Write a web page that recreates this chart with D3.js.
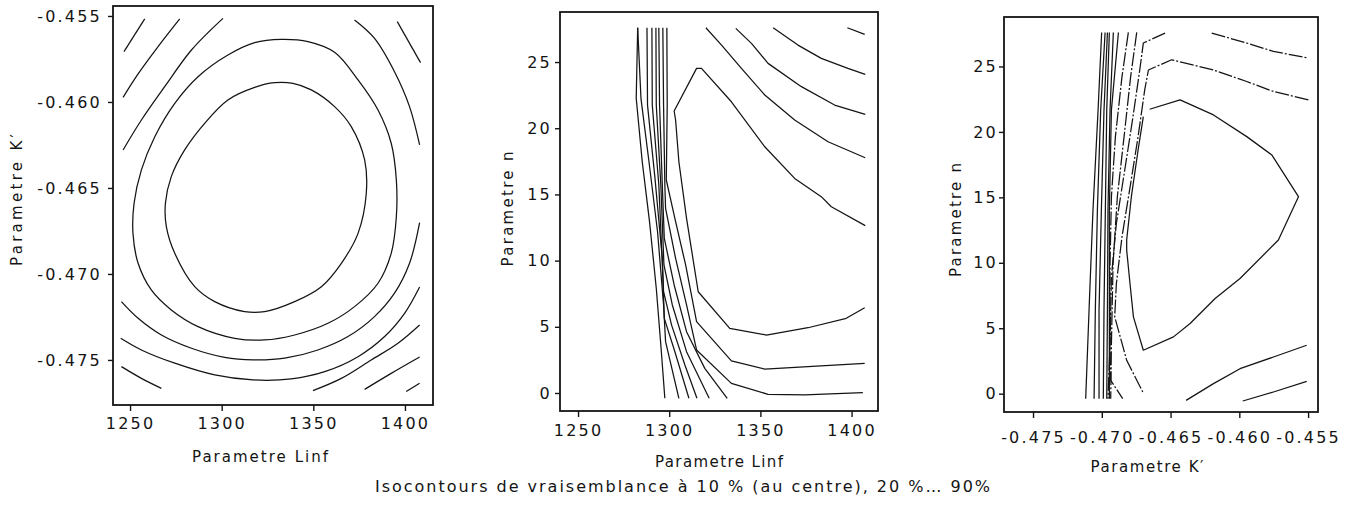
<!DOCTYPE html>
<html><head><meta charset="utf-8">
<script src="https://cdn.jsdelivr.net/npm/d3@7"></script>
<style>
body{margin:0;background:#fff;}
svg{display:block;}
</style></head><body>
<svg id="chart" width="1361" height="513"></svg>
<script>
// ---------- Panel 1 : Linf (x) vs K' (y) ----------
const p1_xTicks = [1250, 1300, 1350, 1400];
const p1_xTickLabels = ["1250", "1300", "1350", "1400"];
const p1_yTicks = [-0.455, -0.460, -0.465, -0.470, -0.475];
const p1_yTickLabels = ["-0.455", "-0.460", "-0.465", "-0.470", "-0.475"];

const p1_c10 = [[1338.9,-0.45892],[1328.9,-0.45888],[1318.0,-0.45915],[1303.4,-0.45988],[1290.7,-0.46124],[1279.8,-0.46279],[1272.5,-0.46434],[1269.3,-0.46589],[1269.8,-0.46725],[1274.4,-0.46880],[1285.3,-0.47074],[1296.2,-0.47161],[1312.5,-0.47219],[1323.4,-0.47219],[1339.8,-0.47161],[1354.4,-0.47074],[1365.3,-0.46938],[1374.4,-0.46764],[1378.9,-0.46531],[1378.0,-0.46337],[1370.7,-0.46143],[1361.6,-0.46027],[1348.9,-0.45930]];
const p1_c20 = [[1332.5,-0.45636],[1318.0,-0.45655],[1303.4,-0.45727],[1287.1,-0.45853],[1274.4,-0.46008],[1263.5,-0.46202],[1256.2,-0.46395],[1252.2,-0.46589],[1251.6,-0.46764],[1254.4,-0.46938],[1261.6,-0.47093],[1272.5,-0.47209],[1287.1,-0.47306],[1307.1,-0.47374],[1323.4,-0.47384],[1339.8,-0.47355],[1358.0,-0.47287],[1372.5,-0.47190],[1385.3,-0.47054],[1392.5,-0.46880],[1395.3,-0.46667],[1395.3,-0.46454],[1392.5,-0.46240],[1385.3,-0.46047],[1374.4,-0.45872],[1361.6,-0.45711],[1347.1,-0.45649]];
const p1_c30_topLeft = [[1246.2,-0.46279],[1256.2,-0.46105],[1268.9,-0.45911],[1283.5,-0.45698],[1300.7,-0.45514]];
const p1_c30_topRight = [[1372.5,-0.45523],[1383.4,-0.45630],[1394.3,-0.45824],[1402.5,-0.46027],[1408.0,-0.46250]];
const p1_c30_bottom = [[1408.0,-0.46702],[1402.5,-0.46938],[1394.3,-0.47112],[1383.4,-0.47248],[1368.9,-0.47364],[1352.5,-0.47442],[1334.4,-0.47490],[1317.1,-0.47500],[1301.6,-0.47485],[1283.5,-0.47432],[1267.1,-0.47355],[1254.4,-0.47258],[1245.3,-0.47161]];
const p1_c40_topLeft = [[1246.2,-0.45973],[1254.4,-0.45837],[1265.3,-0.45678],[1277.1,-0.45517]];
const p1_c40_topRight = [[1395.8,-0.45533],[1408.5,-0.45771]];
const p1_c40_bottom = [[1244.9,-0.47374],[1256.2,-0.47442],[1274.4,-0.47519],[1296.2,-0.47587],[1317.1,-0.47616],[1338.0,-0.47610],[1356.2,-0.47568],[1374.4,-0.47481],[1388.9,-0.47364],[1399.8,-0.47229],[1408.0,-0.47076]];
const p1_c50_topLeft = [[1246.7,-0.45707],[1258.0,-0.45517]];
const p1_c50_bottomLeft = [[1245.3,-0.47539],[1256.2,-0.47607],[1267.1,-0.47665]];
const p1_c50_bottomRight = [[1349.8,-0.47678],[1365.3,-0.47607],[1381.6,-0.47500],[1396.2,-0.47403],[1408.0,-0.47297]];
const p1_c60 = [[1378.0,-0.47671],[1392.5,-0.47578],[1408.0,-0.47483]];
const p1_c70 = [[1400.7,-0.47684],[1408.0,-0.47636]];

// ---------- Panel 2 : Linf (x) vs n (y) ----------
const p2_xTicks = [1250, 1300, 1350, 1400];
const p2_xTickLabels = ["1250", "1300", "1350", "1400"];
const p2_yTicks = [0, 5, 10, 15, 20, 25];
const p2_yTickLabels = ["0", "5", "10", "15", "20", "25"];

const p2_r1 = [[1397.7,27.59],[1407.2,27.09]];
const p2_r2 = [[1357.0,27.59],[1370.6,26.28],[1383.4,25.28],[1398.0,24.52],[1407.5,24.07]];
const p2_r3 = [[1336.5,27.54],[1345.1,26.41],[1354.2,24.90],[1372.5,23.14],[1390.7,21.75],[1407.5,21.05]];
const p2_r4 = [[1320.1,27.59],[1328.7,26.28],[1339.6,24.52],[1352.4,22.51],[1368.8,20.62],[1387.1,18.98],[1407.5,17.77]];
const p2_r5 = [[1407.5,12.64],[1388.9,14.07],[1383.4,14.83],[1368.8,16.21],[1352.4,18.60],[1334.1,22.00],[1317.7,24.52],[1315.0,24.52],[1302.7,21.30],[1303.5,20.62],[1305.3,17.47],[1309.5,13.19],[1315.9,7.65],[1333.2,4.88],[1353.3,4.38],[1376.1,4.93],[1397.1,5.64],[1407.2,6.44]];
const p2_r6 = [[1298.7,27.59],[1298.9,21.75],[1298.4,16.09],[1303.1,13.19],[1309.0,9.67],[1315.0,5.39],[1334.1,2.42],[1352.4,1.81],[1376.1,1.99],[1407.2,2.24]];
const p2_r7 = [[1296.5,27.59],[1296.9,21.75],[1297.6,15.71],[1298.0,13.95],[1303.5,10.17],[1309.5,6.65],[1315.0,3.25],[1334.1,0.73],[1354.2,-0.10],[1374.3,-0.15],[1406.2,0.02]];
const p2_v1 = [[1294.3,27.59],[1294.7,21.75],[1296.2,15.71],[1297.3,11.68],[1302.7,8.16],[1309.5,4.63],[1319.5,1.86],[1331.8,-0.40]];
const p2_v2 = [[1292.7,27.59],[1292.9,21.75],[1295.4,15.71],[1297.1,9.67],[1301.7,6.65],[1309.5,3.12],[1321.9,-0.40]];
const p2_v3 = [[1290.5,27.59],[1290.7,21.75],[1294.3,15.71],[1296.9,7.65],[1301.3,5.13],[1308.6,2.12],[1315.2,-0.40]];
const p2_v4 = [[1287.8,27.59],[1288.1,21.75],[1292.2,16.21],[1296.2,10.17],[1297.3,5.64],[1303.1,3.12],[1310.8,-0.40]];
const p2_v5 = [[1282.7,27.59],[1284.5,22.26],[1288.9,17.47],[1293.6,12.18],[1296.9,6.65],[1298.0,3.88],[1305.3,-0.40]];
const p2_v6 = [[1282.7,27.59],[1281.9,22.26],[1285.2,17.47],[1289.2,12.94],[1292.9,7.91],[1295.4,3.63],[1297.6,-0.40]];

// ---------- Panel 3 : K' (x) vs n (y) ----------
const p3_xTicks = [-0.475, -0.470, -0.465, -0.460, -0.455];
const p3_xTickLabels = ["-0.475", "-0.470", "-0.465", "-0.460", "-0.455"];
const p3_yTicks = [0, 5, 10, 15, 20, 25];
const p3_yTickLabels = ["0", "5", "10", "15", "20", "25"];

const p3_w1 = [[-0.47001,27.60],[-0.47027,21.68],[-0.47064,14.03],[-0.47088,7.65],[-0.47117,-0.38]];
const p3_w2 = [[-0.46976,27.60],[-0.47008,21.68],[-0.47032,14.03],[-0.47047,6.38],[-0.47056,-0.38]];
const p3_w3 = [[-0.46959,27.60],[-0.46984,21.68],[-0.47003,14.03],[-0.47020,6.38],[-0.47020,-0.38]];
const p3_w4 = [[-0.46945,27.60],[-0.46964,21.68],[-0.46974,14.03],[-0.46984,6.38],[-0.46989,-0.38]];
const p3_w5 = [[-0.46916,27.60],[-0.46940,21.68],[-0.46955,14.03],[-0.46959,6.38],[-0.46964,-0.38]];
const p3_w6 = [[-0.46879,27.60],[-0.46930,21.68],[-0.46945,14.03],[-0.46945,6.38],[-0.46945,-0.38]];
const p3_w7 = [[-0.46807,27.60],[-0.46853,24.24],[-0.46901,19.64],[-0.46930,15.05],[-0.46940,9.95],[-0.46940,3.83],[-0.46935,1.02],[-0.46848,-0.38]];
const p3_w8 = [[-0.46746,27.60],[-0.46790,24.24],[-0.46838,19.64],[-0.46887,15.05],[-0.46918,9.95],[-0.46930,3.83],[-0.46935,-0.38]];
const p3_t0 = [[-0.46540,27.55],[-0.46698,26.79],[-0.46724,24.73],[-0.46773,21.17],[-0.46833,17.09],[-0.46894,13.01],[-0.46930,8.93],[-0.46940,3.83],[-0.46955,-0.38]];
const p3_t1 = [[-0.46201,27.55],[-0.45946,26.79],[-0.45752,26.15],[-0.45498,25.64]];
const p3_t2 = [[-0.45498,22.45],[-0.45752,23.09],[-0.45946,23.85],[-0.46188,24.73],[-0.46492,25.51],[-0.46661,24.73],[-0.46688,23.21],[-0.46736,19.64],[-0.46790,16.07],[-0.46853,11.99],[-0.46894,8.42],[-0.46906,5.87],[-0.46819,2.55],[-0.46702,0.13]];
const p3_t3 = [[-0.46652,21.73],[-0.46431,22.45],[-0.46188,21.30],[-0.45946,19.64],[-0.45764,18.24],[-0.45570,15.05],[-0.45716,11.74],[-0.45995,8.80],[-0.46176,7.27],[-0.46358,5.36],[-0.46479,4.34],[-0.46698,3.32],[-0.46770,5.87],[-0.46795,8.42],[-0.46819,10.97],[-0.46819,11.74],[-0.46785,15.05],[-0.46736,18.62],[-0.46698,21.17]];
const p3_b1 = [[-0.46387,-0.51],[-0.46188,0.77],[-0.45995,1.91],[-0.45752,2.80],[-0.45510,3.70]];
const p3_b2 = [[-0.45975,-0.56],[-0.45752,0.13],[-0.45510,0.94]];

const caption = "Isocontours de vraisemblance à 10 % (au centre), 20 %… 90%";

// ---------- layout / styling ----------
const ink = "#141414";
const FONT = "'DejaVu Sans', sans-serif";
const panels = [
  { left:113, right:433, top:6, bottom:405,
    xDomain:[1240.7,1415.3], yDomain:[-0.45442,-0.47762],
    xTicks:p1_xTicks, xTickLabels:p1_xTickLabels, yTicks:p1_yTicks, yTickLabels:p1_yTickLabels,
    xPad:7, yPad:6,
    xTitle:"Parametre Linf", xTitlePos:[260,462], xTitleLen:136,
    yTitle:"Parametre  K′", yTitlePos:[22,200], yTitleLen:132,
    curve:"smooth",
    contours:[
      {pts:p1_c10, closed:true},{pts:p1_c20, closed:true},
      {pts:p1_c30_topLeft},{pts:p1_c30_topRight},{pts:p1_c30_bottom},
      {pts:p1_c40_topLeft},{pts:p1_c40_topRight},{pts:p1_c40_bottom},
      {pts:p1_c50_topLeft},{pts:p1_c50_bottomLeft},{pts:p1_c50_bottomRight},
      {pts:p1_c60},{pts:p1_c70}
    ]},
  { left:560, right:878, top:12, bottom:411,
    xDomain:[1240.1,1414.5], yDomain:[28.78,-1.36],
    xTicks:p2_xTicks, xTickLabels:p2_xTickLabels, yTicks:p2_yTicks, yTickLabels:p2_yTickLabels,
    xPad:8, yPad:3,
    xTitle:"Parametre Linf", xTitlePos:[719,467], xTitleLen:128,
    yTitle:"Parametre  n", yTitlePos:[513,209], yTitleLen:115,
    curve:"linear",
    contours:[p2_r1,p2_r2,p2_r3,p2_r4,p2_r5,p2_r6,p2_r7,p2_v1,p2_v2,p2_v3,p2_v4,p2_v5,p2_v6].map(p=>({pts:p}))
  },
  { left:1004, right:1318, top:17, bottom:412,
    xDomain:[-0.47711,-0.45428], yDomain:[28.78,-1.40],
    xTicks:p3_xTicks, xTickLabels:p3_xTickLabels, yTicks:p3_yTicks, yTickLabels:p3_yTickLabels,
    xPad:14, yPad:1,
    xTitle:"Parametre  K′", xTitlePos:[1147,472], xTitleLen:113,
    yTitle:"Parametre  n", yTitlePos:[961,220], yTitleLen:114,
    curve:"linear",
    contours:[
      {pts:p3_w1},{pts:p3_w2},{pts:p3_w3},{pts:p3_w4},{pts:p3_w5},{pts:p3_w6},
      {pts:p3_w7, dashed:true},{pts:p3_w8, dashed:true},{pts:p3_t0, dashed:true},
      {pts:p3_t1, dashed:true},{pts:p3_t2, dashed:true},{pts:p3_t3},
      {pts:p3_b1},{pts:p3_b2}
    ]}
];

const svg = d3.select("#chart");
svg.append("rect").attr("width",1361).attr("height",513).attr("fill","#fff");

function styleAxis(a, size) {
  a.attr("font-family", FONT).attr("font-size", size);
  a.select(".domain").remove();
  a.selectAll("line").attr("stroke", ink).attr("stroke-width", 1.4);
  a.selectAll("text").attr("fill", ink).attr("letter-spacing", 2.2);
}

panels.forEach(cfg => {
  const x = d3.scaleLinear().domain(cfg.xDomain).range([cfg.left, cfg.right]);
  const y = d3.scaleLinear().domain(cfg.yDomain).range([cfg.top, cfg.bottom]);
  const g = svg.append("g");

  // contours
  const lineOpen = d3.line().x(d => x(d[0])).y(d => y(d[1]))
    .curve(cfg.curve === "smooth" ? d3.curveCatmullRom.alpha(0.5) : d3.curveLinear);
  const lineClosed = d3.line().x(d => x(d[0])).y(d => y(d[1]))
    .curve(d3.curveCatmullRomClosed.alpha(0.5));
  g.append("g").selectAll("path").data(cfg.contours).join("path")
    .attr("d", c => (c.closed ? lineClosed : lineOpen)(c.pts))
    .attr("fill", "none")
    .attr("stroke", ink)
    .attr("stroke-width", 1.25)
    .attr("stroke-linejoin", "round")
    .attr("stroke-dasharray", c => c.dashed ? "14,2,2,2" : null);

  // frame
  g.append("rect")
    .attr("x", cfg.left).attr("y", cfg.top)
    .attr("width", cfg.right - cfg.left).attr("height", cfg.bottom - cfg.top)
    .attr("fill", "none").attr("stroke", ink).attr("stroke-width", 1.8);

  // axes
  g.append("g").attr("transform", `translate(0,${cfg.bottom})`)
    .call(d3.axisBottom(x).tickValues(cfg.xTicks)
      .tickFormat((d, i) => cfg.xTickLabels[i]).tickSize(6).tickPadding(cfg.xPad))
    .call(a => styleAxis(a, 16));
  g.append("g").attr("transform", `translate(${cfg.left},0)`)
    .call(d3.axisLeft(y).tickValues(cfg.yTicks)
      .tickFormat((d, i) => cfg.yTickLabels[i]).tickSize(5).tickPadding(cfg.yPad))
    .call(a => styleAxis(a, 16));

  // titles
  g.append("text")
    .attr("x", cfg.xTitlePos[0]).attr("y", cfg.xTitlePos[1])
    .attr("text-anchor", "middle").attr("font-family", FONT).attr("font-size", 15)
    .attr("fill", ink).attr("textLength", cfg.xTitleLen).attr("lengthAdjust", "spacing")
    .text(cfg.xTitle);
  g.append("text")
    .attr("transform", `translate(${cfg.yTitlePos[0]},${cfg.yTitlePos[1]}) rotate(-90)`)
    .attr("text-anchor", "middle").attr("font-family", FONT).attr("font-size", 15)
    .attr("fill", ink).attr("textLength", cfg.yTitleLen).attr("lengthAdjust", "spacing")
    .text(cfg.yTitle);
});

svg.append("text")
  .attr("x", 375).attr("y", 492)
  .attr("font-family", FONT).attr("font-size", 16).attr("fill", ink)
  .attr("textLength", 615).attr("lengthAdjust", "spacing")
  .text(caption);
</script></body></html>
